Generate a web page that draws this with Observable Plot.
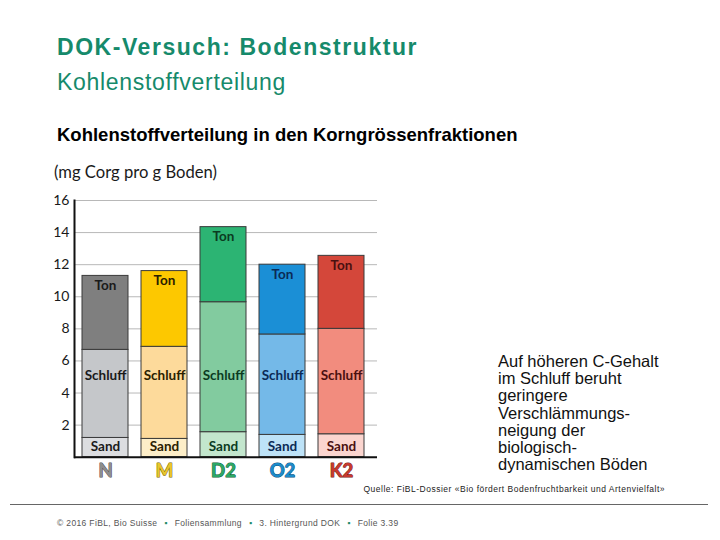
<!DOCTYPE html>
<html><head><meta charset="utf-8">
<script src="https://cdn.jsdelivr.net/npm/d3@7"></script>
<script src="https://cdn.jsdelivr.net/npm/@observablehq/plot@0.6"></script>
<style>
body{margin:0;background:#fff;width:720px;height:540px;position:relative;overflow:hidden;font-family:Arial,"Liberation Sans",sans-serif}
.abs{position:absolute;white-space:nowrap}
#title{left:57px;top:35.5px;font-size:23px;line-height:23px;font-weight:bold;color:#168a6b;letter-spacing:1.55px}
#subtitle{left:57px;top:70.5px;font-size:23px;line-height:23px;color:#168a6b;letter-spacing:0.7px}
#heading{left:57px;top:126px;font-size:18.5px;line-height:18.5px;font-weight:bold;color:#000;letter-spacing:0px}
#ylabel{left:54px;top:163px;font-family:Lato,sans-serif;font-size:16.6px;line-height:18px;color:#1a1a1a}
#note{left:498px;top:353px;font-size:16.5px;line-height:17.2px;color:#111;white-space:normal;width:210px}
#source{right:55px;top:484px;font-size:8.5px;line-height:10px;color:#222;letter-spacing:0.5px}
#hr{left:10px;top:504px;width:698px;height:1px;background:#666}
#footer{left:57px;top:518px;font-size:8.5px;line-height:10px;color:#555;letter-spacing:0.35px}
#footer .sq{color:#1e8a66;margin:0 7px}
</style></head><body>
<div class="abs" id="title">DOK-Versuch: Bodenstruktur</div>
<div class="abs" id="subtitle">Kohlenstoffverteilung</div>
<div class="abs" id="heading">Kohlenstoffverteilung in den Korngrössenfraktionen</div>
<div class="abs" id="ylabel">(mg Corg pro g Boden)</div>
<div class="abs" id="chart" style="left:0;top:180px"></div>
<div class="abs" id="note">Auf höheren C-Gehalt<br>im Schluff beruht<br>geringere<br>Verschlämmungs-<br>neigung der<br>biologisch-<br>dynamischen Böden</div>
<div class="abs" id="source">Quelle: FiBL-Dossier «Bio fördert Bodenfruchtbarkeit und Artenvielfalt»</div>
<div class="abs" id="hr"></div>
<div class="abs" id="footer">© 2016 FiBL, Bio Suisse<span class="sq">▪</span>Foliensammlung<span class="sq">▪</span>3. Hintergrund DOK<span class="sq">▪</span>Folie 3.39</div>
<script>
// data
const groups = ["N", "M", "D2", "O2", "K2"];
const fractions = ["Sand", "Schluff", "Ton"];
const sand = [1.20, 1.14, 1.56, 1.39, 1.43];
const schluff = [5.49, 5.74, 8.10, 6.26, 6.57];
const ton = [4.61, 4.72, 4.68, 4.35, 4.55];
const yTicks = [2, 4, 6, 8, 10, 12, 14, 16];

// colours
const sandColors = ["#dcdde0", "#fdeec8", "#c3e6cd", "#bde2f7", "#fbd5cf"];
const schluffColors = ["#c5c7ca", "#fdda9b", "#82cb9f", "#74b9e8", "#f28c7e"];
const tonColors = ["#7f7f7f", "#fdc800", "#2cb473", "#1b8fd6", "#d4473a"];
const inkColors = ["#1a1a1a", "#2a2000", "#0b3b1f", "#0b2a55", "#4a1010"];
const groupColors = ["#8e8e8e", "#e8c62c", "#2ca866", "#1b8bca", "#c8392e"];
const groupStrokes = ["#505050", "#7a6400", "#0f5e34", "#0c4f7c", "#6e1712"];

const values = {Sand: sand, Schluff: schluff, Ton: ton};
const fills = {Sand: sandColors, Schluff: schluffColors, Ton: tonColors};
const rows = groups.flatMap((g, i) => fractions.map(f => ({
  group: g, fraction: f, value: values[f][i], fill: fills[f][i], ink: inkColors[i],
  top: sand[i] + schluff[i] + ton[i]
})));

const labelStyle = {fontFamily: "Lato, sans-serif", fontSize: 13.5, fontWeight: "bold", lineAnchor: "middle"};

const chart = Plot.plot({
  width: 400,
  height: 305,
  marginTop: 20,
  marginBottom: 28.3,
  marginLeft: 74,
  marginRight: 23,
  style: {fontFamily: "Lato, sans-serif", color: "#1a1a1a", background: "transparent"},
  x: {domain: groups, paddingInner: 0.215, paddingOuter: 0.137, align: 0.41, axis: null},
  y: {domain: [0, 16]},
  marks: [
    Plot.ruleY(yTicks, {stroke: "#b8b8b8", strokeWidth: 1}),
    Plot.barY(rows, {x: "group", y: "value", fill: "fill", stroke: "#3a3a3a", strokeWidth: 1}),
    Plot.text(rows.filter(d => d.fraction === "Sand"), {x: "group", text: "fraction", frameAnchor: "bottom", dy: -10.7, fill: "ink", ...labelStyle}),
    Plot.text(rows.filter(d => d.fraction === "Schluff"), {x: "group", text: "fraction", frameAnchor: "bottom", dy: -81.7, fill: "ink", ...labelStyle}),
    Plot.text(rows.filter(d => d.fraction === "Ton"), {x: "group", y: "top", text: "fraction", dy: 9.5, fill: "ink", ...labelStyle}),
    Plot.ruleY([0], {stroke: "#111", strokeWidth: 2}),
    Plot.frame({anchor: "left", stroke: "#111", strokeWidth: 2}),
    Plot.axisY({ticks: yTicks, tickSize: 0, tickPadding: 5, fontSize: 14, label: null}),
    Plot.text(groups, {x: d => d, text: d => d, frameAnchor: "bottom", lineAnchor: "middle", dy: 13.5,
      fill: (d, i) => groupColors[i], stroke: (d, i) => groupStrokes[i], strokeWidth: 1,
      fontFamily: "Lato, sans-serif", fontSize: 18.5, fontWeight: "bold"})
  ]
});
document.getElementById("chart").appendChild(chart);
</script>
</body></html>
